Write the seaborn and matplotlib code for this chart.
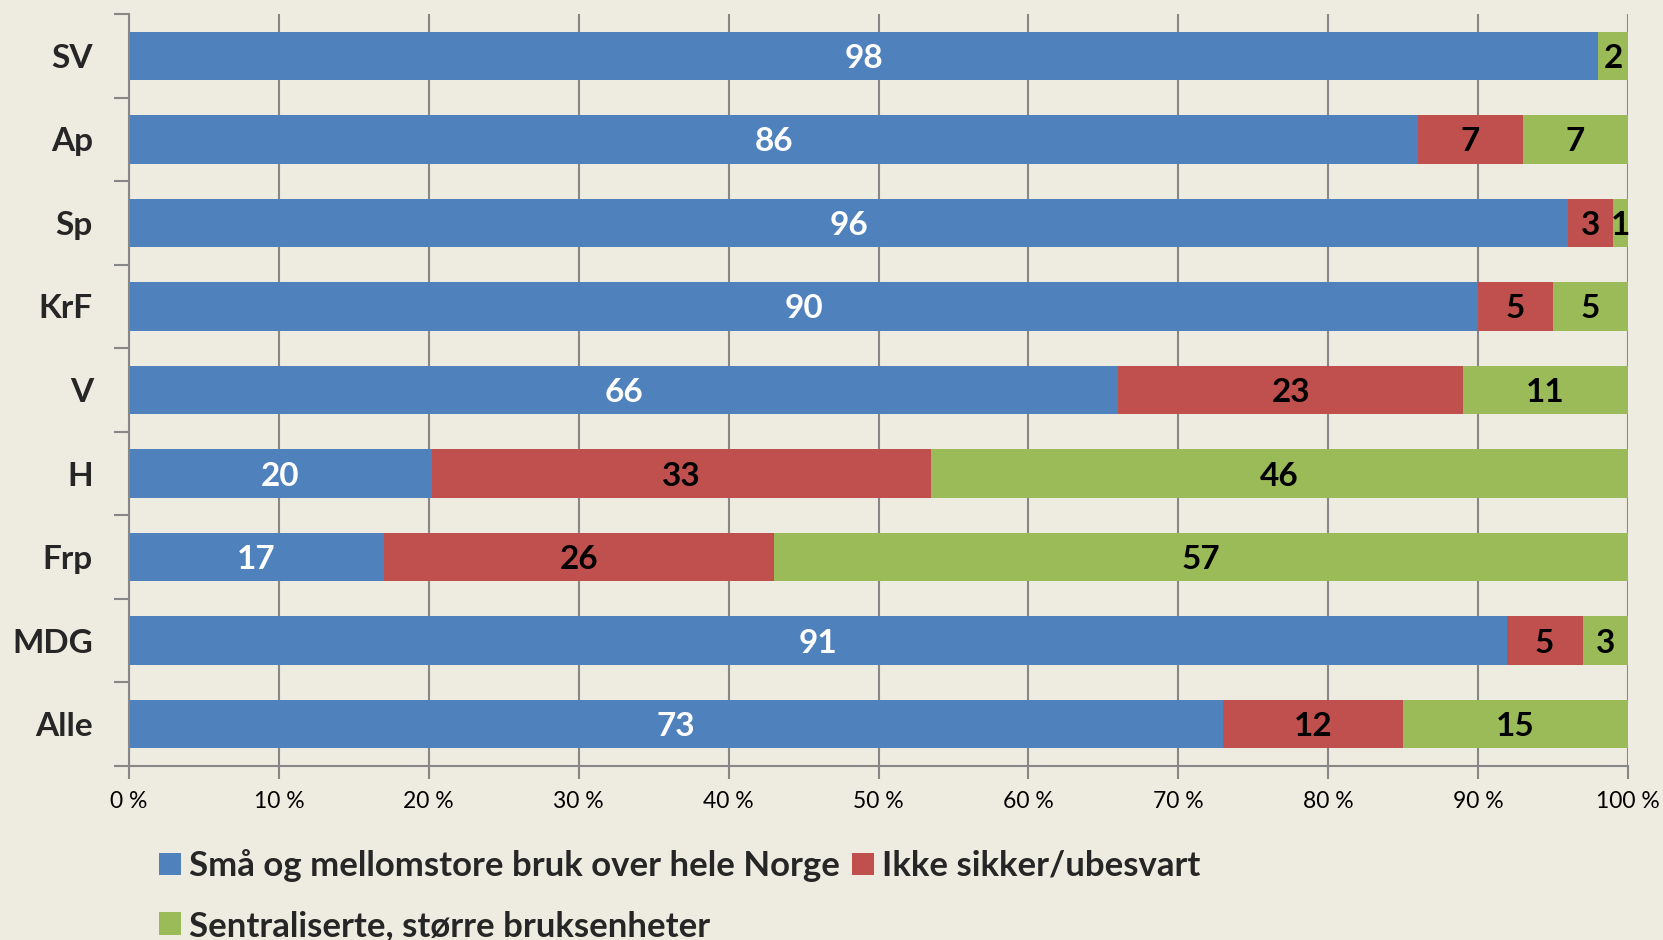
import numpy as np
import pandas as pd
import matplotlib
matplotlib.use("Agg")
import matplotlib.pyplot as plt
import seaborn as sns
from matplotlib.patches import Patch
from matplotlib.ticker import FixedLocator, FuncFormatter

parties = ["SV", "Ap", "Sp", "KrF", "V", "H", "Frp", "MDG", "Alle"]
small_farms = [98, 86, 96, 90, 66, 20, 17, 91, 73]
unsure = [0, 7, 3, 5, 23, 33, 26, 5, 12]
centralised = [2, 7, 1, 5, 11, 46, 57, 3, 15]
series_names = ["Små og mellomstore bruk over hele Norge",
                "Ikke sikker/ubesvart",
                "Sentraliserte, større bruksenheter"]
x_ticks = [0, 10, 20, 30, 40, 50, 60, 70, 80, 90, 100]

colors = ["#4F81BD", "#C0504D", "#9BBB59"]
bg = "#EEEBE0"
grid_c = "#878787"

sns.set_theme(style="white")
plt.rcParams["font.family"] = ["Lato", "DejaVu Sans"]

raw = np.array([small_farms, unsure, centralised], dtype=float)
tot = raw.sum(axis=0)
share = raw / tot * 100
cum = np.cumsum(share, axis=0)

df = pd.DataFrame({"party": parties,
                   "c1": cum[0], "c2": cum[1], "c3": cum[2]})

fig = plt.figure(figsize=(16.63, 9.40), dpi=100, facecolor=bg)
ax = fig.add_axes([129/1663, 1-766/940, (1628-129)/1663, (766-14)/940])
ax.set_facecolor(bg)

for t in x_ticks:
    ax.axvline(t, color=grid_c, lw=1.5, zorder=0)

for col, c in zip(["c3", "c2", "c1"], colors[::-1]):
    sns.barplot(data=df, x=col, y="party", orient="h", color=c,
                width=0.58, saturation=1, ax=ax, zorder=2, edgecolor="none")

for i in range(len(parties)):
    for k in range(3):
        if raw[k, i] <= 0:
            continue
        start = cum[k, i] - share[k, i]
        cx = start + share[k, i] / 2
        ax.text(cx, i + 0.03, f"{int(raw[k, i])}", ha="center", va="center",
                fontsize=24, fontweight="bold",
                color="white" if k == 0 else "black", zorder=5)

ax.set_xlim(0, 100)
ax.set_ylim(len(parties) - 0.5, -0.5)
ax.set_xlabel("")
ax.set_ylabel("")

ax.xaxis.set_major_locator(FixedLocator(x_ticks))
ax.xaxis.set_major_formatter(FuncFormatter(lambda v, p: f"{int(v)} %"))
ax.tick_params(axis="x", which="major", length=9, width=1.5, color=grid_c,
               direction="out", labelsize=16.5, pad=9, labelcolor="black", bottom=True)

bounds = np.arange(-0.5, len(parties), 1.0)
ax.yaxis.set_major_locator(FixedLocator(bounds))
ax.yaxis.set_major_formatter(FuncFormatter(lambda v, p: ""))
ax.yaxis.set_minor_locator(FixedLocator(np.arange(len(parties))))
ax.set_yticklabels(parties, minor=True)
ax.tick_params(axis="y", which="major", length=11, width=1.5, color=grid_c,
               direction="out", left=True)
ax.tick_params(axis="y", which="minor", length=0, pad=26, labelsize=24, left=True)
for lbl in ax.get_yticklabels(minor=True):
    lbl.set_fontweight("bold")

for s in ["top", "right"]:
    ax.spines[s].set_visible(False)
for s in ["left", "bottom"]:
    ax.spines[s].set_color(grid_c)
    ax.spines[s].set_linewidth(1.5)
    ax.spines[s].set_zorder(3)

handles = [Patch(facecolor=c, edgecolor="none") for c in colors]
order = [0, 2, 1]
leg = fig.legend([handles[i] for i in order], [series_names[i] for i in order],
                 loc="upper left", bbox_to_anchor=(159/1663, 1-849/940),
                 ncol=2, frameon=False, borderpad=0, borderaxespad=0,
                 handlelength=0.62, handleheight=0.62, handletextpad=0.25,
                 columnspacing=0.35, labelspacing=0.8,
                 prop={"size": 25, "weight": "bold"})

fig.savefig("out.png", dpi=100, facecolor=bg)
